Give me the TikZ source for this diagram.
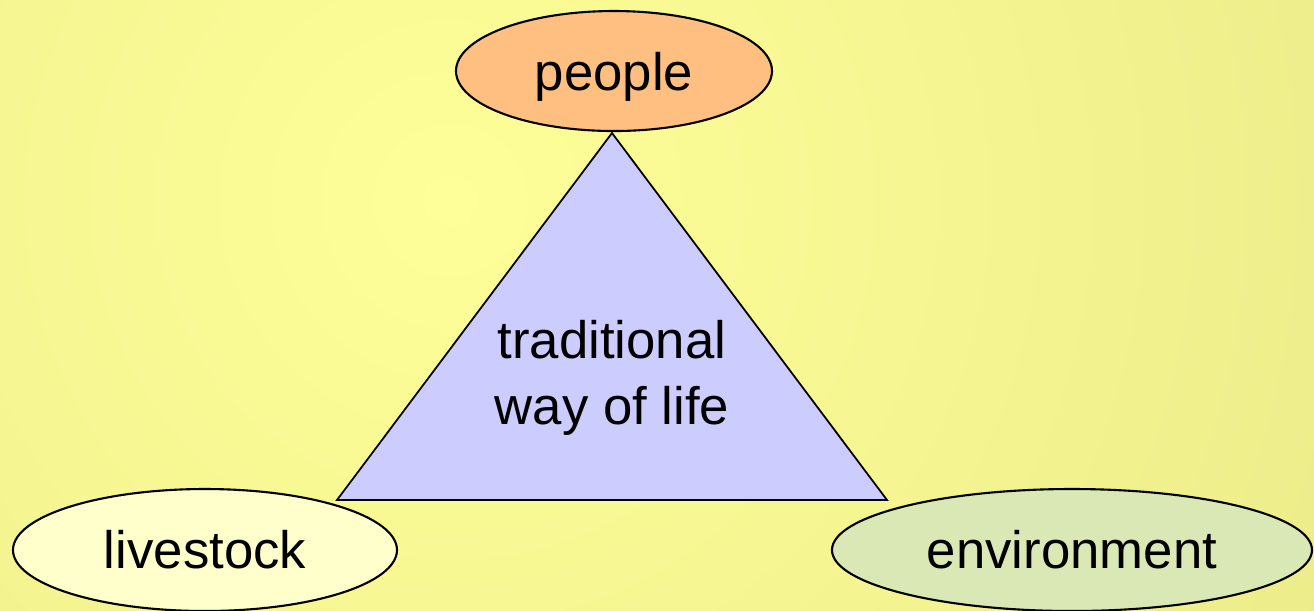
\documentclass[tikz,border=0pt]{standalone}
\usepackage{fontspec}
\setmainfont{Liberation Sans}
\usetikzlibrary{shapes.geometric}

\definecolor{bgin}{HTML}{FFFF99}
\definecolor{bgout}{HTML}{DADA7C}
\definecolor{peoplefill}{HTML}{FFBF80}
\definecolor{stockfill}{HTML}{FFFFCC}
\definecolor{envfill}{HTML}{D9E8B5}
\definecolor{lifefill}{HTML}{CCCCFF}

\begin{document}
\begin{tikzpicture}[x=0.1mm, y=-0.1mm,
    every node/.style={font=\fontsize{15}{18.6}\selectfont},
    oval/.style={ellipse, draw, line width=0.6pt, inner sep=0pt}]
  \useasboundingbox (0,0) rectangle (1314,610);
  \begin{scope}
    \clip (0,0) rectangle (1314,610);
    \shade [inner color=bgin, outer color=bgout] (450,200) circle [radius=1900];
  \end{scope}

  % the triangle
  \coordinate (top)   at (612,133);
  \coordinate (left)  at (337,500);
  \coordinate (right) at (887,500);
  \draw [fill=lifefill, line width=0.5pt, line join=miter] (top) -- (left) -- (right) -- cycle;
  \node [align=center] (life) at (612,378) {traditional\\way of life};

  % the three corners
  \node [oval, fill=peoplefill, minimum width=31.6mm, minimum height=12mm, text depth=0pt] (people) at (614,71) {people};
  \node [oval, fill=stockfill, minimum width=38.4mm, minimum height=12.2mm] (livestock) at (205,550) {livestock};
  \node [oval, fill=envfill, minimum width=48mm, minimum height=12.2mm] (environment) at (1072,550) {environment};
\end{tikzpicture}
\end{document}
